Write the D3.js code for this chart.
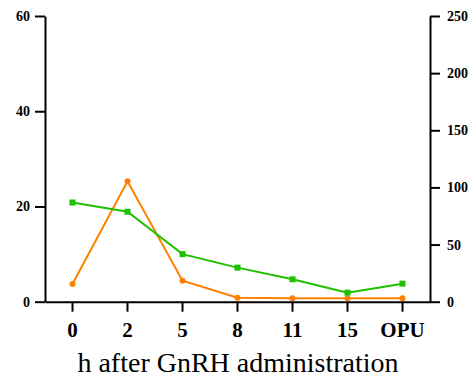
<!DOCTYPE html>
<html>
<head>
<meta charset="utf-8">
<script src="https://cdn.jsdelivr.net/npm/d3@7"></script>
<style>
body { margin: 0; background: #fff; }
text { font-family: "Liberation Serif", "Times New Roman", serif; fill: #000; }
</style>
</head>
<body>
<div id="chart"></div>
<script>
// data
var categories = ['0', '2', '5', '8', '11', '15', 'OPU'];
var orangeVals = [3.7, 25.3, 4.4, 0.85, 0.7, 0.7, 0.7];      // left axis
var greenVals = [86.8, 78.7, 41.6, 29.8, 19.6, 7.9, 15.8];   // right axis
var leftTicks = [0, 20, 40, 60];
var rightTicks = [0, 50, 100, 150, 200, 250];
var xTitle = 'h after GnRH administration';

var W = 476, H = 383;
var plotL = 45, plotR = 430, plotT = 16, plotB = 301.7;

var svg = d3.select('#chart').append('svg')
	.attr('width', W).attr('height', H);

var x = d3.scaleBand().domain(categories).range([plotL, plotR]);
var yL = d3.scaleLinear().domain([0, 60]).range([plotB, plotT]);
var yR = d3.scaleLinear().domain([0, 250]).range([plotB, plotT]);

// left axis
var gl = svg.append('g').attr('transform', 'translate(' + plotL + ',0)')
	.call(d3.axisLeft(yL).tickValues(leftTicks).tickSize(10).tickPadding(5).tickSizeOuter(0));
// right axis
var gr = svg.append('g').attr('transform', 'translate(' + plotR + ',0)')
	.call(d3.axisRight(yR).tickValues(rightTicks).tickSize(10).tickPadding(7).tickSizeOuter(0));
// bottom axis
var gb = svg.append('g').attr('transform', 'translate(0,' + plotB + ')')
	.call(d3.axisBottom(x).tickSize(10).tickPadding(10).tickSizeOuter(0));

[gl, gr, gb].forEach(function(g) {
	g.selectAll('.domain').attr('stroke', '#000').attr('stroke-width', 2);
	g.selectAll('.tick line').attr('stroke', '#000').attr('stroke-width', 2);
	g.selectAll('text').style('font-family', '"Liberation Serif", serif').style('font-weight', 'bold');
});
gl.selectAll('text').style('font-size', '14px');
gr.selectAll('text').style('font-size', '14px');
gb.selectAll('text').style('font-size', '21px');

// axis title
svg.append('text')
	.attr('x', (plotL + plotR) / 2 + 0.5).attr('y', 372)
	.attr('text-anchor', 'middle')
	.style('font-size', '28px')
	.text(xTitle);

var cx = function(d, i) { return x(categories[i]) + x.bandwidth() / 2; };

// orange series
var lineL = d3.line().x(cx).y(function(d) { return yL(d); });
svg.append('path').datum(orangeVals)
	.attr('d', lineL).attr('fill', 'none')
	.attr('stroke', '#ff8000').attr('stroke-width', 2);
svg.selectAll('.dotO').data(orangeVals).enter().append('circle')
	.attr('cx', cx).attr('cy', function(d) { return yL(d); })
	.attr('r', 3).attr('fill', '#ff8000');

// green series
var lineR = d3.line().x(cx).y(function(d) { return yR(d); });
svg.append('path').datum(greenVals)
	.attr('d', lineR).attr('fill', 'none')
	.attr('stroke', '#1ec000').attr('stroke-width', 2);
svg.selectAll('.sqG').data(greenVals).enter().append('rect')
	.attr('x', function(d, i) { return cx(d, i) - 3; })
	.attr('y', function(d) { return yR(d) - 3; })
	.attr('width', 6).attr('height', 6).attr('fill', '#1ec000');
</script>
</body>
</html>
